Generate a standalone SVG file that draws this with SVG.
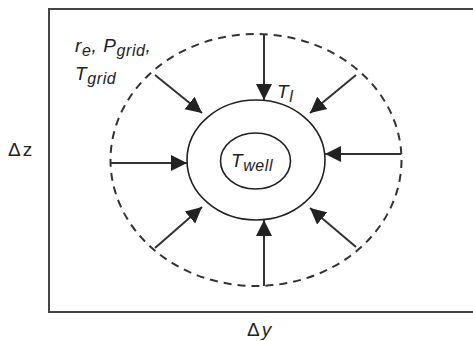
<svg xmlns="http://www.w3.org/2000/svg" width="473" height="341" viewBox="0 0 473 341">
<defs>
<marker id="ah" markerUnits="userSpaceOnUse" markerWidth="17" markerHeight="17" viewBox="0 0 17 17" refX="16" refY="8.5" orient="auto">
<path d="M0,0.5 L16,8.5 L0,16.5 Z" fill="#222"/>
</marker>
</defs>
<style>
.frame{fill:none;stroke:#444;stroke-width:2}
.dash{fill:none;stroke:#333;stroke-width:2;stroke-dasharray:8 6}
.solid{fill:none;stroke:#222;stroke-width:1.6}
.arr{stroke:#333;stroke-width:2;marker-end:url(#ah)}
.t{font-family:"Liberation Sans",Arial,sans-serif;font-style:italic;font-size:19px;fill:#222;letter-spacing:0.6px}
.s{font-size:16px}
.u{font-family:"Liberation Sans",Arial,sans-serif;font-size:19px;fill:#222;letter-spacing:2px}
</style>
<path class="frame" d="M473,9 L49,9 L49,312 L473,312"/>
<g id="grid-boundary"><ellipse class="dash" cx="256" cy="160" rx="145.5" ry="126"/></g>
<g id="interface"><ellipse class="solid" cx="256" cy="160" rx="69" ry="60"/></g>
<g id="well"><ellipse class="solid" cx="255.5" cy="161" rx="35" ry="28"/></g>
<g id="connectors">
<line class="arr" x1="264" y1="34" x2="264" y2="100"/>
<line class="arr" x1="264" y1="286" x2="264" y2="220"/>
<line class="arr" x1="110" y1="163" x2="187" y2="163"/>
<line class="arr" x1="401" y1="154" x2="325" y2="154"/>
<line class="arr" x1="155" y1="75" x2="202" y2="113"/>
<line class="arr" x1="356" y1="75" x2="310" y2="113"/>
<line class="arr" x1="155" y1="248" x2="202" y2="207"/>
<line class="arr" x1="356" y1="247" x2="310" y2="208"/>
</g>
<g id="labels">
<text class="t" x="75" y="52">r<tspan class="s" dy="4">e</tspan><tspan dy="-4">, P</tspan><tspan class="s" dy="4">grid</tspan><tspan dy="-4">,</tspan></text>
<text class="t" x="75" y="80">T<tspan class="s" dy="4">grid</tspan></text>
<text class="t" x="277" y="98">T<tspan class="s" dy="4">l</tspan></text>
<text class="t" x="231" y="167">T<tspan class="s" dy="4">well</tspan></text>
<text class="u" x="8" y="156">Δz</text>
<text class="u" x="247" y="336">Δ<tspan font-style="italic">y</tspan></text>
</g>
</svg>
